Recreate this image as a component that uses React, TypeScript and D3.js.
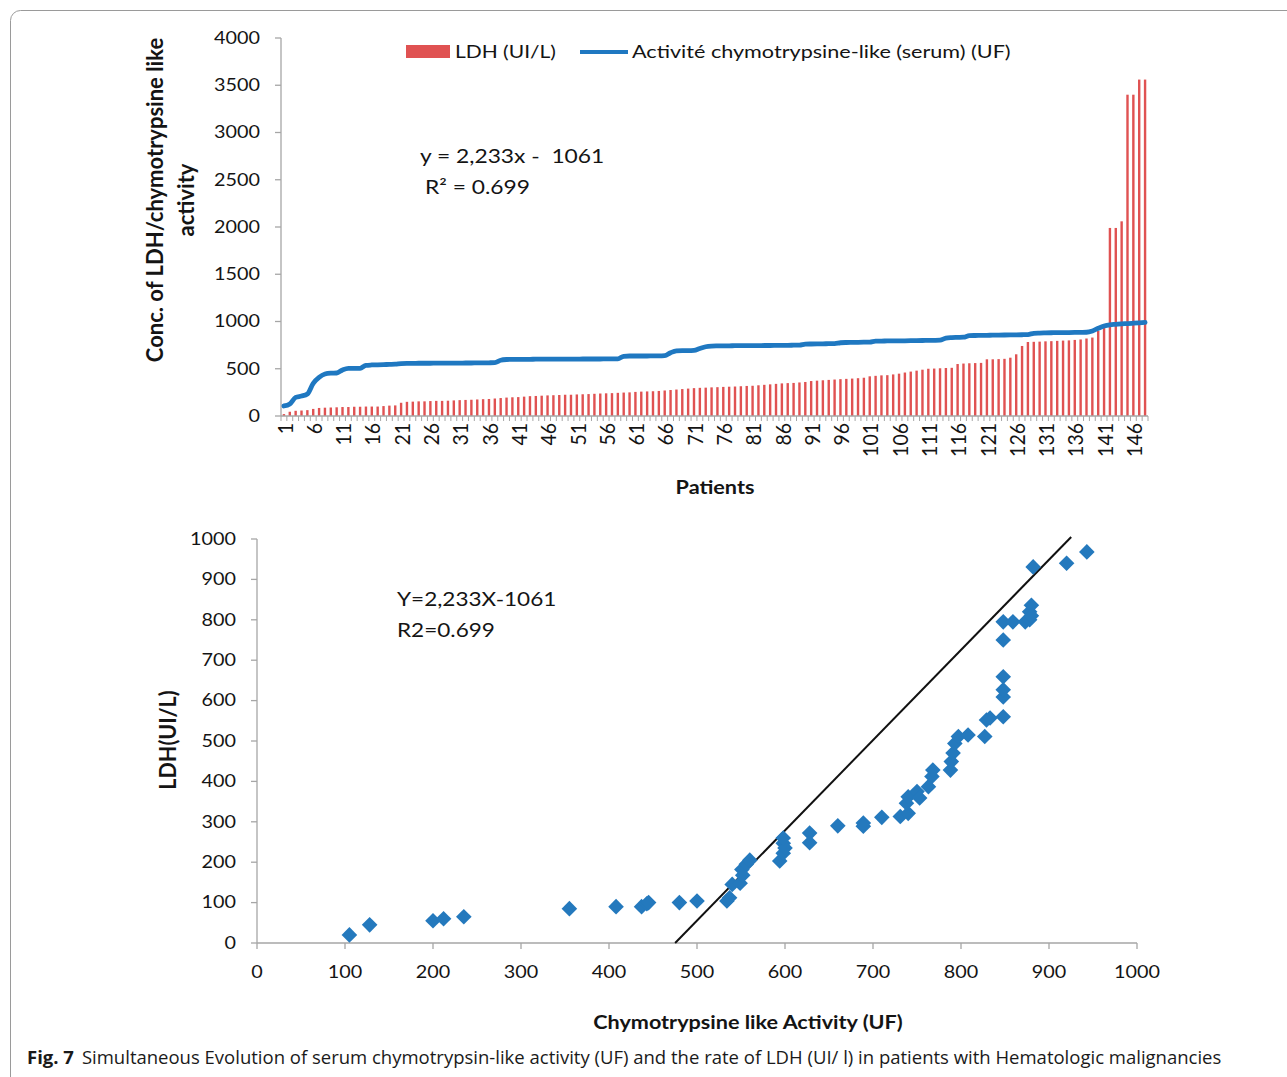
import React from "react";
import * as d3 from "d3";

// ---------- Top chart data (patients sorted) ----------
const ldh: number[] = [
  20, 45, 55, 58, 62, 75, 85, 88, 90, 92,
  95, 95, 98, 98, 100, 100, 100, 105, 110, 112,
  140, 150, 152, 155, 155, 158, 160, 160, 162, 165,
  168, 170, 172, 175, 178, 180, 185, 190, 195, 198,
  200, 205, 210, 212, 215, 218, 220, 222, 225, 225,
  228, 230, 232, 235, 238, 240, 242, 245, 248, 250,
  255, 258, 260, 262, 265, 270, 275, 280, 285, 290,
  295, 298, 300, 303, 305, 308, 310, 312, 315, 318,
  320, 325, 330, 335, 340, 345, 348, 350, 355, 360,
  370, 374, 378, 382, 386, 390, 393, 396, 400, 405,
  420, 425, 430, 432, 440, 448, 460, 470, 480, 490,
  500, 502, 505, 508, 510, 550, 555, 558, 560, 562,
  600, 600, 602, 605, 617, 653, 741, 783, 785, 787,
  790, 792, 795, 798, 800, 805, 810, 820, 830, 900,
  950, 1990, 1990, 2060, 3400, 3400, 3560, 3560,
];

const chymo: number[] = [
  106, 127, 197, 211, 233, 346, 409, 444, 453, 455,
  487, 504, 504, 505, 536, 540, 542, 544, 546, 548,
  555, 557, 557, 558, 558, 558, 559, 559, 560, 560,
  560, 561, 561, 562, 562, 563, 565,
  590,
  598, 600, 600, 600, 600, 601, 601, 601, 601, 602,
  602, 602, 602, 603, 603, 603, 603, 604, 604, 605,
  632, 635, 635, 635, 635, 636, 636, 638,
  670, 690, 692, 692, 695,
  715, 733, 740,
  742, 743, 743, 744, 744, 745, 745, 745, 746, 746, 747, 748, 748, 749, 750,
  760, 762, 763, 764, 765, 766,
  775, 778, 779, 780, 781, 782,
  792, 793, 794, 795, 795, 796, 797, 798, 799, 800, 801, 803,
  825, 830, 832, 834,
  850, 852, 853, 854, 855, 856, 857, 858, 859, 860, 862,
  875, 878, 880, 881, 882, 882, 883, 884, 885, 886,
  900, 928, 952, 965, 970, 975, 978, 982, 986, 990,
];

const patients: number[] = ldh.map((_, i) => i + 1);
const topXTickLabels: number[] = [1, 6, 11, 16, 21, 26, 31, 36, 41, 46, 51, 56, 61, 66, 71, 76, 81, 86, 91, 96, 101, 106, 111, 116, 121, 126, 131, 136, 141, 146];
const topYTicks: number[] = [0, 500, 1000, 1500, 2000, 2500, 3000, 3500, 4000];

// ---------- Bottom scatter data ----------
const scatterX: number[] = [
  105, 128, 200, 212, 235, 355, 408, 437, 443, 445, 480, 500, 534, 537, 540, 549,
  551, 552, 556, 560, 594, 598, 598, 600, 598, 628, 628, 660, 689, 689, 710, 731,
  740, 738, 740, 750, 753, 763, 767, 768, 788, 789, 791, 793, 797, 808, 827, 829,
  833, 848, 848, 848, 848, 848, 848, 859, 873, 878, 878, 880, 880, 882, 920, 943,
];
const scatterY: number[] = [
  20, 45, 55, 60, 65, 85, 90, 90, 97, 100, 100, 104, 104, 112, 145, 148,
  182, 168, 195, 205, 203, 222, 247, 235, 260, 272, 248, 290, 297, 289, 311, 313,
  321, 346, 362, 375, 359, 387, 412, 428, 428, 449, 470, 494, 511, 515, 511, 552,
  557, 560, 609, 627, 659, 750, 795, 795, 795, 800, 820, 836, 810, 931, 940, 968,
];
const botXTicks: number[] = [0, 100, 200, 300, 400, 500, 600, 700, 800, 900, 1000];
const botYTicks: number[] = [0, 100, 200, 300, 400, 500, 600, 700, 800, 900, 1000];
const regSlope = 2.233;
const regIntercept = -1061;

const RED = "#e05252";
const BLUE = "#1f78c1";
const AXIS = "#a6a6a6";
const FONT = "Lato, 'Open Sans', sans-serif";
const SX = 1.2;

type TP = {
  x: number; y: number; children: React.ReactNode; size?: number; weight?: string | number;
  anchor?: "start" | "middle" | "end"; rotate?: number; sx?: number; family?: string; dy?: string;
};
function T({ x, y, children, size = 16, weight = "normal", anchor = "start", rotate = 0, sx = SX, family = FONT, dy = "0.35em" }: TP) {
  return (
    <text
      transform={`translate(${x},${y}) scale(${sx},1)${rotate ? ` rotate(${rotate})` : ""}`}
      fontSize={size}
      fontWeight={weight}
      fontFamily={family}
      textAnchor={anchor}
      dy={dy}
      fill="#141414"
      style={{ whiteSpace: "pre" }}
    >
      {children}
    </text>
  );
}

export default function App() {
  // top chart scales
  const tx = d3.scaleBand<number>().domain(patients).range([281, 1148]).padding(0);
  const ty = d3.scaleLinear().domain([0, 4000]).range([416, 38]);
  const bw = 2.4;
  const line = d3
    .line<number>()
    .x((_, i) => (tx(patients[i]) as number) + tx.bandwidth() / 2)
    .y((d) => ty(d))
    .curve(d3.curveMonotoneX);

  // bottom chart scales
  const bx = d3.scaleLinear().domain([0, 1000]).range([257, 1137]);
  const by = d3.scaleLinear().domain([0, 1000]).range([943, 539]);
  const regY0 = 0;
  const regY1 = 1005;
  const regX0 = (regY0 - regIntercept) / regSlope;
  const regX1 = (regY1 - regIntercept) / regSlope;
  const diamond = d3.symbol().type(d3.symbolSquare).size(122)();

  return (
    <svg width={1287} height={1077} style={{ position: "absolute", left: 0, top: 0, background: "#fff" }}>
      <rect x={0} y={0} width={1287} height={1077} fill="#fff" />
      <rect x={10.5} y={10.5} width={1320} height={1120} rx={10} fill="none" stroke="#9a9a9a" strokeWidth={1} />

      {/* ===== TOP CHART ===== */}
      {ldh.map((v, i) => (
        <rect
          key={"b" + i}
          x={(tx(patients[i]) as number) + tx.bandwidth() / 2 - bw / 2}
          y={ty(v)}
          width={bw}
          height={ty(0) - ty(v)}
          fill={RED}
        />
      ))}
      <line x1={281} x2={281} y1={ty(4000)} y2={ty(0)} stroke={AXIS} strokeWidth={1.3} />
      {topYTicks.map((t) => (
        <g key={"yt" + t}>
          <line x1={275} x2={281} y1={ty(t)} y2={ty(t)} stroke={AXIS} strokeWidth={1.3} />
          <T x={260} y={ty(t)} anchor="end" size={16.5}>{t}</T>
        </g>
      ))}
      <line x1={281} x2={1148} y1={ty(0)} y2={ty(0)} stroke={AXIS} strokeWidth={1.3} />
      {patients.map((p) => (
        <line key={"xt" + p} x1={tx(p) as number} x2={tx(p) as number} y1={ty(0)} y2={ty(0) + 5} stroke={AXIS} strokeWidth={1} />
      ))}
      <line x1={1148} x2={1148} y1={ty(0)} y2={ty(0) + 5} stroke={AXIS} strokeWidth={1} />
      {topXTickLabels.map((p) => (
        <T key={"xl" + p} x={(tx(p) as number) + tx.bandwidth() / 2 + 1.5} y={423} anchor="end" rotate={-90} sx={1.05} size={19.5}>
          {p}
        </T>
      ))}
      <path d={line(chymo) || ""} fill="none" stroke={BLUE} strokeWidth={4.8} strokeLinejoin="round" strokeLinecap="round" />

      <T x={155} y={200} anchor="middle" rotate={-90} size={22} sx={1.05} weight="bold">Conc. of LDH/chymotrypsine like</T>
      <T x={186} y={200} anchor="middle" rotate={-90} size={22} sx={1.05} weight="bold">activity</T>
      <T x={715} y={488} anchor="middle" size={18} weight="bold">Patients</T>

      {/* legend */}
      <rect x={406} y={45} width={44} height={13} fill={RED} />
      <T x={455} y={52} size={17.5}>LDH (UI/L)</T>
      <line x1={580} x2={628} y1={52} y2={52} stroke={BLUE} strokeWidth={4} />
      <T x={632} y={52} size={18}>Activité chymotrypsine-like (serum) (UF)</T>

      <T x={420} y={156} size={19}>{"y = 2,233x -  1061"}</T>
      <T x={425} y={187} size={19}>R² = 0.699</T>

      {/* ===== BOTTOM CHART ===== */}
      <line x1={257} x2={257} y1={by(1000)} y2={by(0)} stroke={AXIS} strokeWidth={1.3} />
      {botYTicks.map((t) => (
        <g key={"byt" + t}>
          <line x1={251} x2={257} y1={by(t)} y2={by(t)} stroke={AXIS} strokeWidth={1.3} />
          <T x={236} y={by(t)} anchor="end" size={16.5}>{t}</T>
        </g>
      ))}
      <line x1={257} x2={1137} y1={by(0)} y2={by(0)} stroke={AXIS} strokeWidth={1.3} />
      {botXTicks.map((t) => (
        <g key={"bxt" + t}>
          <line x1={bx(t)} x2={bx(t)} y1={by(0)} y2={by(0) + 6} stroke={AXIS} strokeWidth={1.3} />
          <T x={bx(t)} y={972} anchor="middle" size={16.5}>{t}</T>
        </g>
      ))}
      <line x1={bx(regX0)} y1={by(regY0)} x2={bx(regX1)} y2={by(regY1)} stroke="#111" strokeWidth={2} />
      {scatterX.map((x, i) => (
        <path
          key={"p" + i}
          d={diamond || ""}
          transform={`translate(${bx(x)},${by(scatterY[i])}) rotate(45)`}
          fill="#2479bd"
        />
      ))}
      <T x={168} y={740} anchor="middle" rotate={-90} size={21.5} sx={1.05} weight="bold">LDH(UI/L)</T>
      <T x={748} y={1023} anchor="middle" size={18} weight="bold">Chymotrypsine like Activity (UF)</T>
      <T x={397} y={599} size={18.8}>Y=2,233X-1061</T>
      <T x={397} y={630} size={18.8}>R2=0.699</T>

      {/* caption */}
      <text x={27} y={1064} fontFamily="'Open Sans', sans-serif" fontSize={18.5} fill="#1a1a1a">
        <tspan fontWeight="bold">Fig. 7</tspan>
        <tspan dx={8}>Simultaneous Evolution of serum chymotrypsin-like activity (UF) and the rate of LDH (UI/ l) in patients with Hematologic malignancies</tspan>
      </text>
    </svg>
  );
}
